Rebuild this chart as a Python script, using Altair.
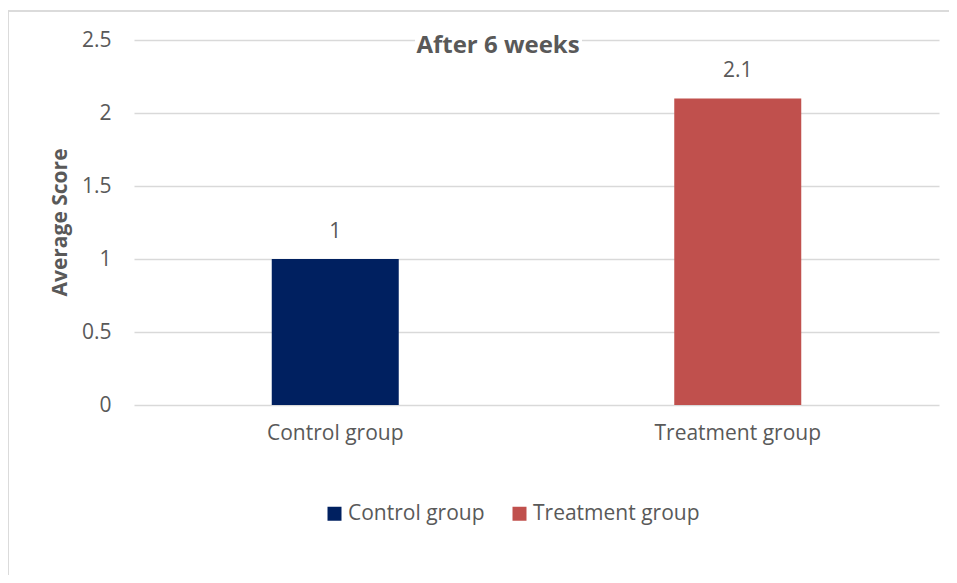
import altair as alt
import pandas as pd

groups = ["Control group", "Treatment group"]
scores = [1.0, 2.1]
colors = ["#002060", "#C0504D"]
title_text = "After 6 weeks"

df = pd.DataFrame({"group": groups, "score": scores})

FONT = "Open Sans"
GRAY = "#595959"
FS = 21

base = alt.Chart(df)

bars = base.mark_bar(size=127).encode(
    x=alt.X("group:N", sort=groups, title=None,
            scale=alt.Scale(paddingInner=0, paddingOuter=0),
            axis=alt.Axis(labelAngle=0, labelFontSize=FS, labelColor=GRAY, labelFont=FONT,
                          labelPadding=17, ticks=False, domain=False, grid=False)),
    y=alt.Y("score:Q", title="Average Score",
            scale=alt.Scale(domain=[0, 2.5], nice=False),
            axis=alt.Axis(values=[0, 0.5, 1, 1.5, 2, 2.5], format="~g", labelFontSize=FS,
                          labelColor=GRAY, labelFont=FONT, labelPadding=23, ticks=False,
                          domain=False, gridColor="#d9d9d9", gridWidth=1.3,
                          titleFontSize=21, titleFont=FONT, titleColor=GRAY, titleFontWeight="bold",
                          titleX=-74, titleY=182, titleAngle=270, titleAlign="center",
                          titleBaseline="middle")),
    color=alt.Color("group:N", sort=groups,
                    scale=alt.Scale(domain=groups, range=colors),
                    legend=alt.Legend(title=None, orient="none", direction="horizontal",
                                      legendX=190, legendY=463, symbolType="square",
                                      symbolSize=196, symbolStrokeWidth=0, labelFontSize=FS,
                                      labelColor=GRAY, labelFont=FONT, columnPadding=24,
                                      labelOffset=3, labelLimit=400)),
)

labels = base.mark_text(fontSize=FS, font=FONT, color=GRAY, baseline="alphabetic", dy=-21).encode(
    x=alt.X("group:N", sort=groups),
    y=alt.Y("score:Q"),
    text=alt.Text("score:Q", format="~g"),
)

title_bg = base.mark_rect(color="white").encode(
    x=alt.value(281), x2=alt.value(448), y=alt.value(-10), y2=alt.value(16)
)

title_mark = alt.Chart(pd.DataFrame({"t": [title_text]})).mark_text(
    fontSize=24, font=FONT, color=GRAY, fontWeight="bold", baseline="alphabetic", align="center"
).encode(x=alt.value(364), y=alt.value(13), text="t:N")

frame_left = base.mark_rule(color="#d9d9d9", strokeWidth=1.5).encode(
    x=alt.value(-126), y=alt.value(-29), y2=alt.value(600)
)
frame_top = base.mark_rule(color="#d9d9d9", strokeWidth=1.5).encode(
    x=alt.value(-126), x2=alt.value(900), y=alt.value(-29)
)

chart = alt.layer(bars, labels, title_bg, title_mark, frame_left, frame_top).properties(
    width=805, height=365,
    autosize=alt.AutoSizeParams(type="none"),
    padding={"left": 126, "top": 32, "right": 10, "bottom": 170},
).configure_view(stroke=None)

chart.save("out.html", embed_options={"renderer": "svg", "actions": False})
